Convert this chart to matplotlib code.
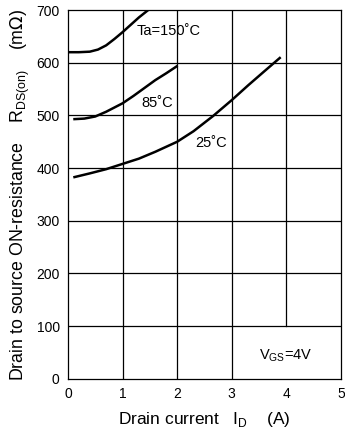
import numpy as np
import matplotlib
matplotlib.use('Agg')
import matplotlib.pyplot as plt

plt.rcParams['font.family'] = ['Liberation Sans', 'DejaVu Sans']

# Curves (drain current A, resistance mOhm)
id_150 = [0.0, 0.2, 0.4, 0.55, 0.7, 0.85, 1.0, 1.15, 1.3, 1.47]
r_150 = [620, 620, 621, 625, 633, 645, 658, 672, 686, 700]
id_85 = [0.12, 0.3, 0.5, 0.7, 0.85, 1.0, 1.2, 1.4, 1.6, 1.8, 1.99]
r_85 = [493, 494, 498, 507, 515, 523, 537, 552, 567, 580, 593]
id_25 = [0.12, 0.4, 0.7, 1.0, 1.3, 1.6, 2.0, 2.3, 2.66, 3.0, 3.3, 3.6, 3.88]
r_25 = [383, 390, 398, 408, 418, 431, 450, 470, 499, 529, 557, 584, 609]

curve_labels = ['Ta=150˚C', '85˚C', '25˚C']
x_ticks = [0, 1, 2, 3, 4, 5]
y_ticks = [0, 100, 200, 300, 400, 500, 600, 700]

fig = plt.figure(figsize=(3.45, 4.37), dpi=100)
ax = fig.add_axes([0.197, 0.133, 0.791, 0.844])
ax.set_xlim(0, 5)
ax.set_ylim(0, 700)

# grid: x=4 line stops at the V_GS box
for xv in x_ticks[1:-1]:
    lo = 100 if xv == 4 else 0
    ax.plot([xv, xv], [lo, 700], color='black', lw=0.9)
for yv in y_ticks[1:-1]:
    ax.plot([0, 5], [yv, yv], color='black', lw=0.9)

for sp in ax.spines.values():
    sp.set_linewidth(0.9)

ax.plot(id_150, r_150, color='black', lw=1.8)
ax.plot(id_85, r_85, color='black', lw=1.8)
ax.plot(id_25, r_25, color='black', lw=1.8)

ax.text(1.25, 660, curve_labels[0], fontsize=10.5, va='center')
ax.text(1.35, 523, curve_labels[1], fontsize=10.5, va='center')
ax.text(2.33, 448, curve_labels[2], fontsize=10.5, va='center')
ax.text(3.5, 45, r'V$_{\mathregular{GS}}$=4V', fontsize=10.5, va='center')

ax.set_xticks(x_ticks)
ax.set_yticks(y_ticks)
ax.tick_params(length=0, labelsize=10, pad=6)

ax.set_xlabel(r'Drain current   I$_{\mathregular{D}}$    (A)', fontsize=12.5, labelpad=6)
ax.set_ylabel(r'Drain to source ON-resistance    R$_{\mathregular{DS(on)}}$    (m$\Omega$)',
              fontsize=12.8, labelpad=3)

fig.savefig('out.png', dpi=100)
